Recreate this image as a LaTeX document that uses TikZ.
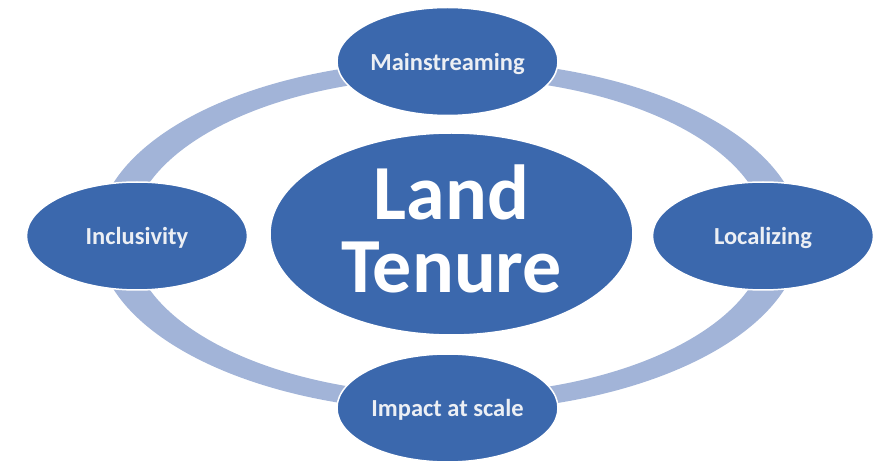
\documentclass[tikz,border=0pt]{standalone}
\usepackage{fontspec}
\setmainfont{Carlito}
\usetikzlibrary{shapes.geometric}
\definecolor{nodeblue}{RGB}{59,104,173}
\definecolor{ringblue}{RGB}{162,180,216}
\definecolor{softwhite}{RGB}{236,239,244}
\tikzset{
  satellite/.style={ellipse, fill=nodeblue, draw=white, line width=1.5pt,
    minimum width=221pt, minimum height=108pt, inner sep=0pt,
    text height=18pt, text depth=0pt,
    text=softwhite, font=\fontsize{24.5}{28}\selectfont\bfseries},
  hub/.style={ellipse, fill=nodeblue, draw=white, line width=1.5pt,
    minimum width=363pt, minimum height=202pt, inner sep=0pt,
    text=white, align=center, text depth=10pt,
    font=\fontsize{78}{73}\selectfont\bfseries}
}
\begin{document}
\begin{tikzpicture}[x=1pt,y=-1pt]
\useasboundingbox (0,0) rectangle (884,462);
% ring
\fill[ringblue, even odd rule] (449,236) ellipse [x radius=352, y radius=175.5]
                               (449,236) ellipse [x radius=318, y radius=158.5];
% nodes
\node[hub] (hub) at (451.5,234) {Land\\Tenure};
\node[satellite] (top) at (447.5,61.5) {Mainstreaming};
\node[satellite] (left) at (137,236) {Inclusivity};
\node[satellite] (right) at (763,236) {Localizing};
\node[satellite] (bottom) at (447.5,408) {Impact at scale};
\end{tikzpicture}
\end{document}
